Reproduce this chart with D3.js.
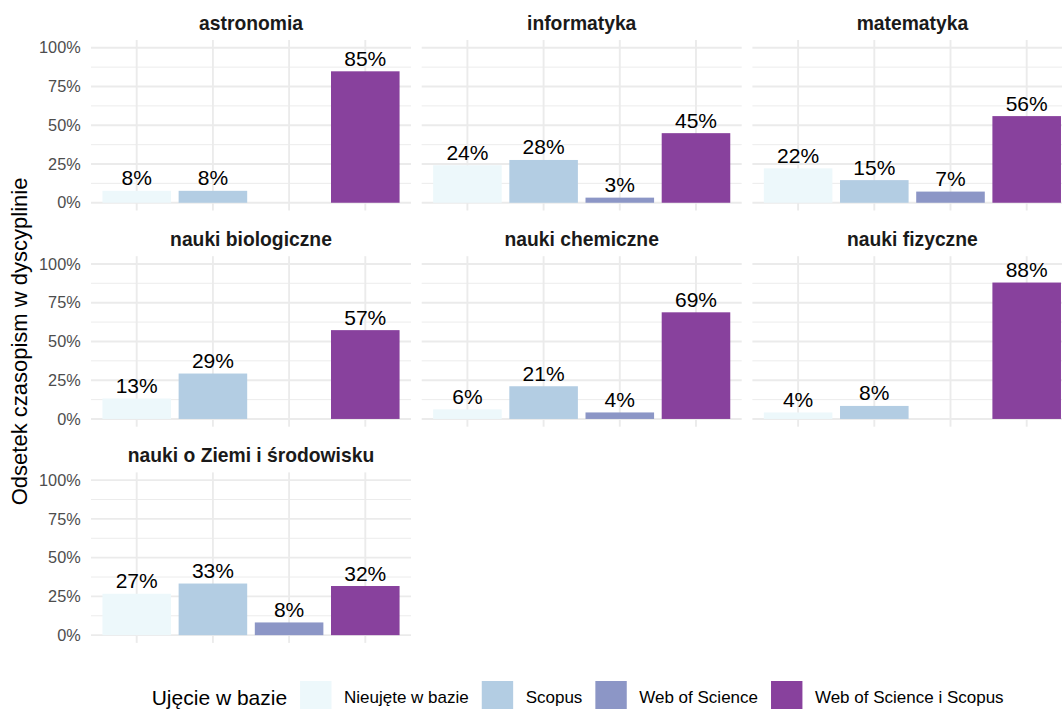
<!DOCTYPE html>
<html>
<head>
<meta charset="utf-8">
<script src="https://cdn.jsdelivr.net/npm/d3@7"></script>
<style>
    body { margin: 0; background: #fff; }
    svg { display: block; font-family: "Liberation Sans", Arial, Helvetica, sans-serif; }
    .grid-major { stroke: #EBEBEB; stroke-width: 1.9; }
    .grid-minor { stroke: #EBEBEB; stroke-width: 0.95; }
    .tick text { fill: #4D4D4D; font-size: 16.3px; }
    .strip { fill: #1A1A1A; font-size: 19.3px; font-weight: bold; }
    .label { fill: #000; font-size: 21px; }
</style>
</head>
<body>
<svg id="chart" width="1062" height="709"></svg>
<script>
// disciplines (facets) and coverage categories (x within each facet)
var disciplines = ["astronomia", "informatyka", "matematyka", "nauki biologiczne",
    "nauki chemiczne", "nauki fizyczne", "nauki o Ziemi i środowisku"];
var coverage = ["Nieujęte w bazie", "Scopus", "Web of Science", "Web of Science i Scopus"];
var colors = ["#EDF8FB", "#B3CDE3", "#8C96C6", "#88419D"];

// share of journals per discipline, one array per coverage category (null = no bar)
var nieujete  = [0.077, 0.242, 0.222, 0.132, 0.062, 0.042, 0.267];
var scopus    = [0.077, 0.276, 0.146, 0.293, 0.211, 0.084, 0.333];
var wos       = [null,  0.033, 0.072, null,  0.042, null,  0.082];
var wosScopus = [0.848, 0.449, 0.559, 0.573, 0.688, 0.880, 0.317];

var yTicks = [0, 0.25, 0.5, 0.75, 1];
var yMinor = [0.125, 0.375, 0.625, 0.875];

var series = [nieujete, scopus, wos, wosScopus];

var svg = d3.select("#chart");

var ncol = 3;
var margin = {left: 91, top: 40};
var pw = 320, ph = 170.5;
var hgap = 10.7, vgap = 45.7;

var x = d3.scaleBand()
    .domain(coverage)
    .range([0, pw])
    .paddingInner(0.1)
    .paddingOuter(0.15);

var y = d3.scaleLinear()
    .domain([-0.05, 1.05])
    .range([ph, 0]);

var color = d3.scaleOrdinal().domain(coverage).range(colors);

var panels = svg.selectAll("g.panel")
    .data(disciplines)
    .enter()
    .append("g")
    .classed("panel", true)
    .attr("transform", function(d, i) {
        var px = margin.left + (i % ncol) * (pw + hgap);
        var py = margin.top + Math.floor(i / ncol) * (ph + vgap);
        return "translate(" + px + "," + py + ")";
    });

panels.each(function(name, i) {
    var g = d3.select(this);

    g.selectAll("line.grid-minor")
        .data(yMinor)
        .enter()
        .append("line")
        .classed("grid-minor", true)
        .attr("x1", 0).attr("x2", pw)
        .attr("y1", function(d) { return y(d); })
        .attr("y2", function(d) { return y(d); });

    g.selectAll("line.grid-h")
        .data(yTicks)
        .enter()
        .append("line")
        .classed("grid-major grid-h", true)
        .attr("x1", 0).attr("x2", pw)
        .attr("y1", function(d) { return y(d); })
        .attr("y2", function(d) { return y(d); });

    g.selectAll("line.grid-v")
        .data(coverage)
        .enter()
        .append("line")
        .classed("grid-major grid-v", true)
        .attr("x1", function(d) { return x(d) + x.bandwidth() / 2; })
        .attr("x2", function(d) { return x(d) + x.bandwidth() / 2; })
        .attr("y1", 0).attr("y2", ph);

    var rows = coverage.map(function(c, k) { return {cat: c, value: series[k][i]}; })
        .filter(function(d) { return d.value != null; });

    g.selectAll("rect.bar")
        .data(rows)
        .enter()
        .append("rect")
        .classed("bar", true)
        .attr("x", function(d) { return x(d.cat); })
        .attr("width", x.bandwidth())
        .attr("y", function(d) { return y(d.value); })
        .attr("height", function(d) { return y(0) - y(d.value); })
        .attr("fill", function(d) { return color(d.cat); });

    g.selectAll("text.label")
        .data(rows)
        .enter()
        .append("text")
        .classed("label", true)
        .attr("x", function(d) { return x(d.cat) + x.bandwidth() / 2; })
        .attr("y", function(d) { return y(d.value) - 5.5; })
        .attr("text-anchor", "middle")
        .text(function(d) { return Math.round(d.value * 100) + "%"; });

    g.append("text")
        .classed("strip", true)
        .attr("x", pw / 2)
        .attr("y", -10)
        .attr("text-anchor", "middle")
        .text(name);

    // y axis only on the first column
    if (i % ncol == 0) {
        g.append("g")
            .call(d3.axisLeft(y).tickValues(yTicks).tickFormat(d3.format(".0%")).tickSize(0).tickPadding(10.3))
            .call(function(a) { a.select(".domain").remove(); })
            .selectAll("text")
            .attr("font-family", null)
            .attr("font-size", null);
    }
});

// y axis title, centred on the panel area
var nrow = Math.ceil(disciplines.length / ncol);
var areaMid = margin.top + (nrow * ph + (nrow - 1) * vgap) / 2;
svg.append("text")
    .attr("transform", "translate(26.5," + areaMid + ") rotate(-90)")
    .attr("text-anchor", "middle")
    .attr("font-size", "22px")
    .attr("fill", "#000")
    .text("Odsetek czasopism w dyscyplinie");

// legend at the bottom
var legend = svg.append("g").attr("transform", "translate(151.7,0)");
var title = legend.append("text")
    .attr("x", 0)
    .attr("y", 704.5)
    .attr("font-size", "21px")
    .attr("fill", "#000")
    .text("Ujęcie w bazie");

var lx = title.node().getComputedTextLength() + 13;
coverage.forEach(function(c) {
    legend.append("rect")
        .attr("x", lx)
        .attr("y", 681)
        .attr("width", 31.4)
        .attr("height", 31.4)
        .attr("fill", color(c));
    var t = legend.append("text")
        .attr("x", lx + 31.4 + 12.5)
        .attr("y", 703.3)
        .attr("font-size", "17px")
        .attr("fill", "#000")
        .text(c);
    lx += 31.4 + 12.5 + t.node().getComputedTextLength() + 13;
});
</script>
</body>
</html>
